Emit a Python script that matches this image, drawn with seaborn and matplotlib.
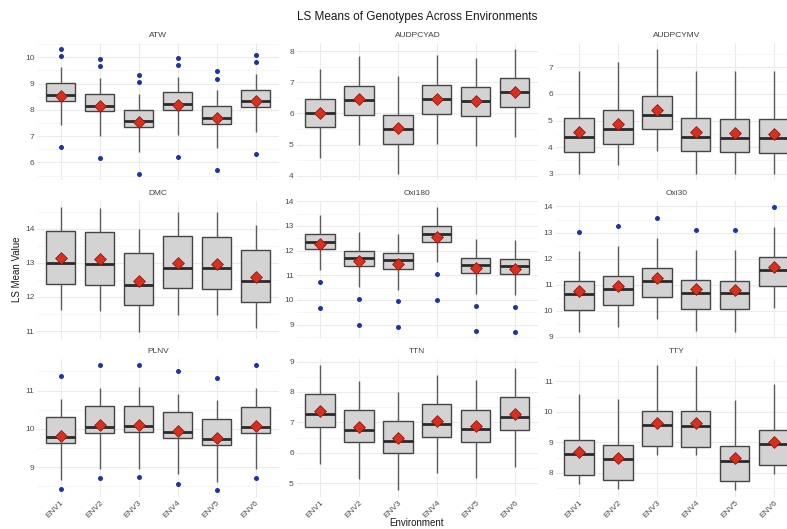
import numpy as np
import pandas as pd
import matplotlib
matplotlib.use("Agg")
import matplotlib.pyplot as plt
from matplotlib.ticker import MultipleLocator
import seaborn as sns

envs = ["ENV1", "ENV2", "ENV3", "ENV4", "ENV5", "ENV6"]
traits = ["ATW", "AUDPCYAD", "AUDPCYMV", "DMC", "Oxi180", "Oxi30", "PLNV", "TTN", "TTY"]

# box stats, one value per environment
whisker_low = {
    "ATW": [7.41, 7.01, 6.41, 7.05, 6.54, 7.16],
    "AUDPCYAD": [4.58, 5.00, 4.05, 5.02, 4.94, 5.24],
    "AUDPCYMV": [3.00, 3.33, 3.84, 3.00, 2.99, 2.99],
    "DMC": [11.61, 11.58, 10.96, 11.48, 11.46, 11.09],
    "Oxi180": [11.20, 10.51, 10.42, 11.52, 10.24, 10.20],
    "Oxi30": [9.17, 9.38, 9.69, 9.23, 9.20, 10.11],
    "PLNV": [8.65, 8.95, 8.96, 8.81, 8.62, 8.95],
    "TTN": [5.64, 5.13, 4.76, 5.32, 5.16, 5.54],
    "TTY": [7.64, 7.47, 8.58, 8.57, 7.42, 7.97],
}
q1 = {
    "ATW": [8.34, 7.94, 7.34, 7.99, 7.47, 8.11],
    "AUDPCYAD": [5.55, 5.96, 5.02, 5.98, 5.91, 6.20],
    "AUDPCYMV": [3.83, 4.13, 4.67, 3.84, 3.80, 3.79],
    "DMC": [12.39, 12.35, 11.75, 12.25, 12.23, 11.86],
    "Oxi180": [12.05, 11.37, 11.26, 12.37, 11.10, 11.05],
    "Oxi30": [10.02, 10.21, 10.52, 10.07, 10.05, 10.94],
    "PLNV": [9.62, 9.90, 9.91, 9.77, 9.57, 9.90],
    "TTN": [6.86, 6.35, 5.98, 6.53, 6.37, 6.76],
    "TTY": [7.92, 7.77, 8.87, 8.86, 7.73, 8.25],
}
median = {
    "ATW": [8.57, 8.16, 7.58, 8.22, 7.70, 8.34],
    "AUDPCYAD": [6.03, 6.44, 5.51, 6.47, 6.40, 6.69],
    "AUDPCYMV": [4.37, 4.69, 5.20, 4.37, 4.35, 4.33],
    "DMC": [13.00, 12.96, 12.34, 12.86, 12.84, 12.47],
    "Oxi180": [12.37, 11.70, 11.60, 12.69, 11.41, 11.37],
    "Oxi30": [10.65, 10.85, 11.16, 10.70, 10.67, 11.58],
    "PLNV": [9.78, 10.06, 10.07, 9.92, 9.73, 10.06],
    "TTN": [7.28, 6.76, 6.40, 6.96, 6.79, 7.19],
    "TTY": [8.61, 8.45, 9.56, 9.54, 8.40, 8.93],
}
q3 = {
    "ATW": [9.01, 8.61, 8.01, 8.67, 8.15, 8.77],
    "AUDPCYAD": [6.48, 6.90, 5.96, 6.92, 6.84, 7.13],
    "AUDPCYMV": [5.08, 5.39, 5.91, 5.08, 5.05, 5.04],
    "DMC": [13.93, 13.90, 13.28, 13.78, 13.77, 13.39],
    "Oxi180": [12.68, 12.00, 11.90, 13.00, 11.72, 11.68],
    "Oxi30": [11.13, 11.32, 11.63, 11.19, 11.16, 12.05],
    "PLNV": [10.30, 10.59, 10.60, 10.44, 10.26, 10.58],
    "TTN": [7.93, 7.41, 7.04, 7.61, 7.42, 7.83],
    "TTY": [9.08, 8.92, 10.04, 10.02, 8.87, 9.41],
}
whisker_high = {
    "ATW": [9.62, 9.20, 8.60, 9.25, 8.76, 9.38],
    "AUDPCYAD": [7.44, 7.86, 7.20, 7.88, 7.80, 8.08],
    "AUDPCYMV": [6.86, 7.18, 7.69, 6.86, 6.84, 6.84],
    "DMC": [14.63, 14.61, 13.98, 14.50, 14.48, 14.12],
    "Oxi180": [13.45, 12.76, 12.67, 13.76, 12.48, 12.45],
    "Oxi30": [12.29, 12.48, 12.79, 12.34, 12.32, 13.21],
    "PLNV": [10.78, 11.07, 11.08, 10.92, 10.74, 11.07],
    "TTN": [8.88, 8.36, 7.99, 8.56, 8.39, 8.78],
    "TTY": [10.59, 10.42, 11.53, 11.51, 10.38, 10.91],
}
means = {
    "ATW": [8.54, 8.15, 7.54, 8.20, 7.68, 8.32],
    "AUDPCYAD": [6.03, 6.45, 5.52, 6.48, 6.41, 6.70],
    "AUDPCYMV": [4.55, 4.86, 5.39, 4.55, 4.53, 4.51],
    "DMC": [13.13, 13.10, 12.48, 13.00, 12.97, 12.60],
    "Oxi180": [12.25, 11.57, 11.45, 12.57, 11.29, 11.25],
    "Oxi30": [10.76, 10.96, 11.26, 10.82, 10.80, 11.69],
    "PLNV": [9.80, 10.09, 10.10, 9.95, 9.76, 10.08],
    "TTN": [7.38, 6.86, 6.50, 7.06, 6.88, 7.29],
    "TTY": [8.68, 8.50, 9.64, 9.62, 8.48, 9.02],
}
outliers = {
    "ATW": [[10.32, 10.06, 6.57], [9.92, 9.67, 6.16], [9.32, 9.06, 5.56],
            [9.97, 9.71, 6.22], [9.46, 9.19, 5.70], [10.08, 9.82, 6.32]],
    "Oxi180": [[10.71, 9.66], [10.05, 8.99], [9.94, 8.89],
               [11.04, 9.98], [9.77, 8.72], [9.73, 8.68]],
    "Oxi30": [[13.04], [13.25], [13.54], [13.11], [13.08], [13.97]],
    "PLNV": [[11.37, 8.43], [11.66, 8.72], [11.66, 8.73],
             [11.51, 8.57], [11.33, 8.39], [11.66, 8.72]],
}

sns.set_style("white")
plt.rcParams["font.family"] = ["Liberation Sans", "DejaVu Sans"]

W, H = 787, 529
fig = plt.figure(figsize=(W / 100, H / 100), dpi=100)

col_left = [37.3, 296.6, 555.6]
row_top = [42.6, 201.0, 359.0]
pw, ph = 241.6, 137.7

for i, tr in enumerate(traits):
    r, c = divmod(i, 3)
    ax = fig.add_axes([col_left[c] / W, 1 - (row_top[r] + ph) / H, pw / W, ph / H])

    # nine values per box whose quartiles are the read ones
    rows = []
    for j, env in enumerate(envs):
        vals = [whisker_low[tr][j], q1[tr][j], q1[tr][j], median[tr][j], median[tr][j],
                median[tr][j], q3[tr][j], q3[tr][j], whisker_high[tr][j]]
        rows += [(env, v) for v in vals]
    df = pd.DataFrame(rows, columns=["Environment", "value"])

    sns.boxplot(data=df, x="Environment", y="value", order=envs, whis=(0, 100),
                showfliers=False, width=0.75, color="#D3D3D3", saturation=1,
                linecolor="#444444", linewidth=1.0,
                whiskerprops={"color": "#5c5c5c"},
                capprops={"visible": False},
                medianprops={"color": "#2a2a2a", "linewidth": 2.0}, ax=ax)

    fl_env, fl_val = [], []
    if tr in outliers:
        for j, env in enumerate(envs):
            for v in outliers[tr][j]:
                fl_env.append(env)
                fl_val.append(v)
        sns.stripplot(x=fl_env, y=fl_val, order=envs, jitter=False, color="#1f33a3",
                      size=3.6, linewidth=0, ax=ax, zorder=3)

    sns.stripplot(x=envs, y=means[tr], order=envs, jitter=False, marker="D",
                  color="#d7301f", edgecolor="#8e1b10", linewidth=0.6, size=6,
                  ax=ax, zorder=4)

    lo = min(whisker_low[tr] + fl_val)
    hi = max(whisker_high[tr] + fl_val)
    pad = 0.05 * (hi - lo)
    ax.set_ylim(lo - pad, hi + pad)
    ax.set_xlim(-0.6, 5.6)

    ax.yaxis.set_major_locator(MultipleLocator(1))
    ax.yaxis.set_minor_locator(MultipleLocator(0.5))
    ax.set_axisbelow(True)
    ax.grid(True, which="major", axis="both", color="#EBEBEB", linewidth=0.8)
    ax.grid(True, which="minor", axis="y", color="#F3F3F3", linewidth=0.5)
    for s in ax.spines.values():
        s.set_visible(False)
    ax.tick_params(which="both", length=0, labelsize=6, labelcolor="#4D4D4D", pad=2)
    ax.set_xlabel("")
    ax.set_ylabel("")
    ax.set_title(tr, fontsize=6, color="#404040", pad=4)

    if r < 2:
        ax.tick_params(axis="x", labelbottom=False)
    else:
        for lab in ax.get_xticklabels():
            lab.set_rotation(45)
            lab.set_ha("right")
            lab.set_va("top")
            lab.set_rotation_mode("anchor")

fig.text(417 / W, 1 - 17 / H, "LS Means of Genotypes Across Environments",
         ha="center", va="center", fontsize=8.5, color="#1a1a1a")
fig.text(17.5 / W, 1 - 269.5 / H, "LS Mean Value", rotation=90,
         ha="center", va="center", fontsize=7, color="#1a1a1a")
fig.text(417 / W, 1.5 / H, "Environment", ha="center", va="bottom",
         fontsize=7, color="#1a1a1a")

fig.savefig("out.png", dpi=100)
